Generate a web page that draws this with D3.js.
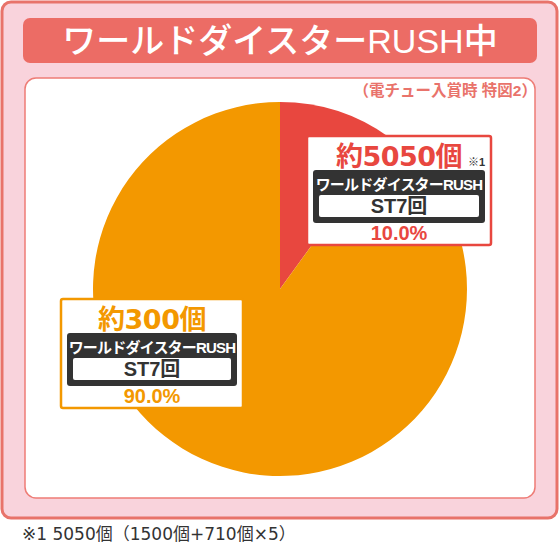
<!DOCTYPE html>
<html>
<head>
<meta charset="utf-8">
<script src="https://cdn.jsdelivr.net/npm/d3@7"></script>
<style>
  body { margin: 0; background: #fff; }
  svg { display: block; }
  text { font-family: "Liberation Sans", "Noto Sans CJK JP", sans-serif; }
  .wide { font-family: "DejaVu Sans", "Noto Sans CJK JP", sans-serif; }
</style>
</head>
<body>
<div id="viz"></div>
<script>
// data
var title = "ワールドダイスターRUSH中";
var subtitle = "（電チュー入賞時 特図2）";
var categories = ["ワールドダイスターRUSH", "ワールドダイスターRUSH"];
var stLabels = ["ST7回", "ST7回"];
var amounts = ["約5050個", "約300個"];
var shares = [10.0, 90.0];
var notes = ["※1", ""];
var footnote = "※1 5050個（1500個+710個×5）";

var colors = ["#e8473f", "#f39800"];

var w = 560, h = 543;
var svg = d3.select("#viz").append("svg")
  .attr("width", w)
  .attr("height", h);

// outer frame
svg.append("rect")
  .attr("x", 2).attr("y", 2)
  .attr("width", 555).attr("height", 516)
  .attr("rx", 9)
  .attr("fill", "#f9d3dc")
  .attr("stroke", "#e8736a")
  .attr("stroke-width", 3);

// title bar
svg.append("rect")
  .attr("x", 23).attr("y", 18)
  .attr("width", 514).attr("height", 45)
  .attr("rx", 7)
  .attr("fill", "#ec6c65");

svg.append("text")
  .attr("x", 280).attr("y", 53)
  .attr("text-anchor", "middle")
  .attr("fill", "#fff")
  .attr("font-size", 34)
  .attr("font-weight", 500)
  .text(title);

// white panel
svg.append("rect")
  .attr("x", 25).attr("y", 78)
  .attr("width", 510).attr("height", 420)
  .attr("rx", 11)
  .attr("fill", "#fff")
  .attr("stroke", "#ee7c76")
  .attr("stroke-width", 1.5);

svg.append("text")
  .attr("x", 537).attr("y", 96)
  .attr("text-anchor", "end")
  .attr("fill", "#e9736b")
  .attr("font-size", 15.5)
  .attr("font-weight", 700)
  .text(subtitle);

// pie
var cx = 280, cy = 289, r = 187;
var pie = d3.pie().sort(null).value(function(d) { return d; });
var arc = d3.arc().innerRadius(0).outerRadius(r);

svg.append("g")
  .attr("transform", "translate(" + cx + "," + cy + ")")
  .selectAll("path")
  .data(pie(shares))
  .enter().append("path")
  .attr("d", arc)
  .attr("fill", function(d, i) { return colors[i]; });

// label boxes
var boxes = [
  {x: 307, y: 136, w: 184, h: 109},
  {x: 61, y: 299, w: 182, h: 109}
];

boxes.forEach(function(b, i) {
  var g = svg.append("g").attr("transform", "translate(" + b.x + "," + b.y + ")");
  var mid = b.w / 2;
  g.append("rect")
    .attr("x", 0).attr("y", 0)
    .attr("width", b.w).attr("height", b.h)
    .attr("rx", 2)
    .attr("fill", "#fff")
    .attr("stroke", colors[i])
    .attr("stroke-width", 2.5);

  g.append("text")
    .attr("class", "wide")
    .attr("x", mid).attr("y", 30)
    .attr("text-anchor", "middle")
    .attr("fill", colors[i])
    .attr("font-size", 27)
    .attr("font-weight", 700)
    .attr("letter-spacing", -0.5)
    .text(amounts[i]);

  if (notes[i]) {
    g.append("text")
      .attr("x", 161).attr("y", 30)
      .attr("fill", "#333")
      .attr("font-size", 11)
      .attr("font-weight", 700)
      .text(notes[i]);
  }

  g.append("rect")
    .attr("x", 6).attr("y", 34)
    .attr("width", b.w - 12).attr("height", 53)
    .attr("rx", 3)
    .attr("fill", "#333");

  g.append("text")
    .attr("x", mid).attr("y", 54)
    .attr("text-anchor", "middle")
    .attr("fill", "#fff")
    .attr("font-size", 15)
    .attr("font-weight", 700)
    .attr("letter-spacing", -0.8)
    .text(categories[i]);

  g.append("rect")
    .attr("x", 12).attr("y", 59)
    .attr("width", b.w - 24).attr("height", 22)
    .attr("rx", 2)
    .attr("fill", "#fff");

  g.append("text")
    .attr("x", mid).attr("y", 77)
    .attr("text-anchor", "middle")
    .attr("fill", "#333")
    .attr("font-size", 20)
    .attr("font-weight", 700)
    .text(stLabels[i]);

  g.append("text")
    .attr("x", mid).attr("y", 104)
    .attr("text-anchor", "middle")
    .attr("fill", colors[i])
    .attr("font-size", 20)
    .attr("font-weight", 700)
    .text(shares[i].toFixed(1) + "%");
});

// footnote
svg.append("text")
  .attr("class", "wide")
  .attr("x", 22).attr("y", 540)
  .attr("fill", "#333")
  .attr("font-size", 17)
  .text(footnote);
</script>
</body>
</html>
